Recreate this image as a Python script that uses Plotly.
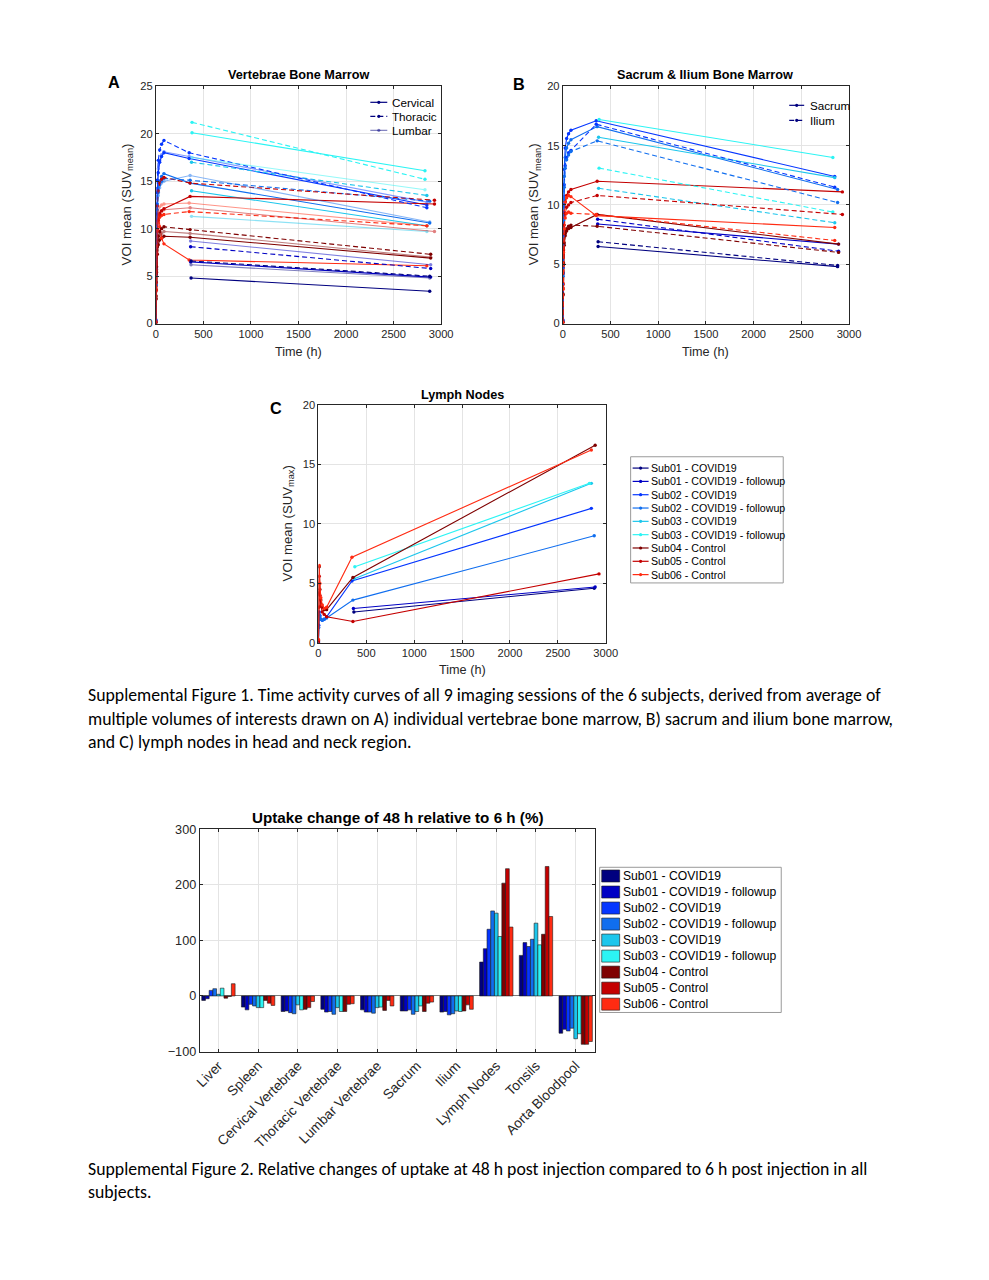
import plotly.graph_objects as go

# page is 989x1280; the browser body keeps its default 8px margin,
# so the figure itself is 973x1264.  The photographed picture shows the page
# with a small border and rescaled, so layout positions (given in picture pixels)
# are converted with SX/SY below.
PAGE_W, PAGE_H = 989, 1280
PAD = 8
FW, FH = PAGE_W - 2 * PAD, PAGE_H - 2 * PAD
SX, SY = 989 / 1005, 1280 / 1296
FS = 1 / ((SX + SY) / 2)
FONT = "Arial, Liberation Sans, Helvetica, sans-serif"
CAP_FONT = "Carlito, Calibri, Lato, sans-serif"
AX = "#262626"
GRID = "#E4E4E4"

# ---------------- data ----------------
SESSIONS = ["Sub01 - COVID19", "Sub01 - COVID19 - followup", "Sub02 - COVID19",
            "Sub02 - COVID19 - followup", "Sub03 - COVID19", "Sub03 - COVID19 - followup",
            "Sub04 - Control", "Sub05 - Control", "Sub06 - Control"]
COLORS = ["#00007F", "#0000C4", "#0536FF", "#106EEF", "#1CC6EC", "#2CF4F4",
          "#7F0000", "#C40000", "#FF2B12"]

# sampling times (h as labelled): dynamic frames and the two late scans per session
T_DYN = [0, 3, 8, 15, 25, 40, 60, 85]
LATE_T = [[370, 2880], [365, 2890], [350, 2850], [360, 2880], [375, 2850],
          [380, 2830], [360, 2890], [360, 2930], [350, 2850]]

# Panel A - vertebrae bone marrow
A_CERV_DYN = [None, None,
              [0.3, 5.2, 10.5, 13.8, 15.9, 17.0, 17.6, 18.0],
              [0.2, 4.4, 9.6, 12.6, 14.3, 15.0, 15.5, 15.8],
              None, None,
              [0.1, 2.6, 5.4, 7.3, 8.3, 8.8, 9.0, 9.2],
              [0.2, 3.6, 7.4, 9.9, 11.1, 11.6, 11.9, 12.1],
              [0.2, 4.0, 8.5, 10.8, 11.5, 10.2, 9.0, 8.4]]
A_CERV_LATE = [[4.8, 3.4], [6.5, 4.9], [17.4, 12.5], [14.8, 10.6], [14.0, 10.3],
               [20.1, 16.1], [9.1, 6.9], [13.4, 12.6], [6.7, 6.1]]
A_THOR_DYN = [None, None,
              [0.4, 5.8, 11.6, 15.1, 17.2, 18.3, 18.9, 19.3],
              [0.2, 4.1, 9.0, 12.0, 13.8, 14.6, 15.0, 15.3],
              None, None,
              [0.1, 2.9, 6.0, 8.1, 9.2, 9.7, 10.0, 10.2],
              [0.2, 4.3, 9.2, 12.4, 14.0, 14.8, 15.2, 15.4],
              [0.2, 3.5, 7.5, 9.8, 10.9, 11.2, 11.4, 11.5]]
A_THOR_LATE = [[6.6, 5.0], [8.1, 5.8], [18.0, 12.2], [15.1, 12.9], [17.0, 13.5],
               [21.2, 15.2], [9.9, 7.3], [14.8, 13.0], [11.8, 10.3]]
A_LUMB_DYN = [None, None,
              [0.3, 5.0, 10.8, 14.2, 16.3, 17.2, 17.8, 18.1],
              [0.2, 4.0, 8.9, 11.8, 13.5, 14.3, 14.8, 15.0],
              None, None,
              [0.1, 2.7, 5.7, 7.7, 8.8, 9.3, 9.5, 9.7],
              [0.2, 3.4, 7.2, 9.7, 10.9, 11.5, 11.8, 12.0],
              [0.2, 3.8, 8.2, 10.6, 11.8, 12.3, 12.5, 12.6]]
A_LUMB_LATE = [[6.2, 4.8], [8.7, 6.2], [17.6, 12.8], [15.6, 10.7], [11.3, 9.7],
               [17.5, 14.1], [9.5, 7.0], [12.2, 9.7], [12.7, 10.3]]

# Panel B - sacrum & ilium bone marrow
B_SACR_DYN = [None, None,
              [0.3, 4.7, 9.9, 13.0, 14.8, 15.6, 16.0, 16.3],
              [0.2, 4.3, 9.3, 12.4, 14.0, 14.8, 15.2, 15.5],
              None, None,
              [0.1, 2.4, 5.0, 6.6, 7.4, 7.8, 8.0, 8.1],
              [0.2, 3.3, 6.9, 9.2, 10.3, 10.8, 11.1, 11.3],
              [0.2, 3.4, 7.2, 9.4, 10.2, 10.6, 10.8, 10.7]]
B_SACR_LATE = [[6.5, 4.8], [8.4, 6.7], [17.1, 12.4], [16.6, 11.3], [15.7, 12.3],
               [17.2, 14.0], [9.2, 6.7], [12.0, 11.1], [9.1, 8.1]]
B_ILIU_DYN = [None, None,
              [0.3, 4.2, 8.8, 11.7, 13.3, 14.0, 14.4, 14.6],
              [0.2, 4.0, 8.7, 11.5, 13.1, 13.8, 14.2, 14.5],
              None, None,
              [0.1, 2.5, 5.1, 6.8, 7.6, 8.0, 8.2, 8.3],
              [0.1, 3.0, 6.2, 8.3, 9.3, 9.8, 10.0, 10.2],
              [0.1, 2.9, 6.0, 8.0, 8.9, 9.3, 9.4, 9.3]]
B_ILIU_LATE = [[6.9, 4.9], [8.8, 6.1], [16.8, 11.5], [15.4, 10.2], [11.4, 8.5],
               [13.1, 9.4], [8.2, 6.0], [10.8, 9.2], [9.2, 7.0]]

# Panel C - lymph nodes
C_LYMPH_DYN = [None, None,
               [0.1, 1.5, 2.6, 2.3, 2.0, 1.9, 2.0, 2.2],
               [0.1, 1.3, 2.4, 2.2, 2.0, 1.9, 2.0, 2.1],
               None, None,
               [0.2, 4.2, 6.4, 4.5, 3.6, 3.0, 2.8, 2.8],
               [0.1, 3.0, 5.6, 4.0, 3.1, 2.6, 2.4, 2.2],
               [0.3, 5.0, 6.5, 5.0, 3.8, 3.2, 2.9, 3.0]]
C_LYMPH_LATE = [[2.6, 4.6], [2.9, 4.7], [5.2, 11.3], [3.6, 9.0], [5.4, 13.4],
                [6.4, 13.4], [5.5, 16.6], [1.8, 5.8], [7.2, 16.2]]

# Bar chart - uptake change 48 h vs 6 h (%)
BAR_REGIONS = ["Liver", "Spleen", "Cervical Vertebrae", "Thoracic Vertebrae",
               "Lumbar Vertebrae", "Sacrum", "Ilium", "Lymph Nodes", "Tonsils",
               "Aorta Bloodpool"]
BAR_SUB01 = [-8, -20, -28, -24, -25, -27, -29, 61, 73, -67]
BAR_SUB01F = [-5, -25, -27, -29, -29, -27, -28, 85, 96, -60]
BAR_SUB02 = [10, -15, -30, -28, -29, -25, -34, 120, 89, -63]
BAR_SUB02F = [13, -18, -32, -33, -31, -33, -32, 153, 102, -58]
BAR_SUB03 = [3, -21, -16, -21, -21, -28, -27, 149, 131, -77]
BAR_SUB03F = [14, -21, -25, -28, -20, -18, -28, 107, 92, -68]
BAR_SUB04 = [-4, -8, -24, -28, -26, -28, -27, 203, 111, -87]
BAR_SUB05 = [-1, -13, -21, -15, -8, -13, -16, 229, 233, -87]
BAR_SUB06 = [22, -17, -10, -14, -18, -11, -24, 124, 143, -82]
BAR_VALUES = [BAR_SUB01, BAR_SUB01F, BAR_SUB02, BAR_SUB02F, BAR_SUB03, BAR_SUB03F,
              BAR_SUB04, BAR_SUB05, BAR_SUB06]

# ---------------- helpers ----------------
def X(q):
    return (q / SX - 2 * PAD) / FW


def Y(q):
    return 1 - (q / SY - 2 * PAD) / FH


def F(size):
    return size * FS


fig = go.Figure()
shapes = []
annotations = []

DASH = "5px,3px"


def add_curves(dyn_list, late_list, xa, ya, dash, opacity):
    for i in range(len(SESSIONS)):
        xs, ys = [], []
        if dyn_list[i] is not None:
            xs += T_DYN
            ys += dyn_list[i]
        xs += LATE_T[i]
        ys += late_list[i]
        fig.add_trace(go.Scatter(
            x=xs, y=ys, xaxis=xa, yaxis=ya, mode="lines+markers",
            line=dict(color=COLORS[i], width=1.1, dash=dash),
            marker=dict(size=3.4, color=COLORS[i]),
            opacity=opacity, showlegend=False, hoverinfo="skip"))


add_curves(A_CERV_DYN, A_CERV_LATE, "x", "y", "solid", 1.0)
add_curves(A_THOR_DYN, A_THOR_LATE, "x", "y", DASH, 1.0)
add_curves(A_LUMB_DYN, A_LUMB_LATE, "x", "y", "solid", 0.5)
add_curves(B_SACR_DYN, B_SACR_LATE, "x2", "y2", "solid", 1.0)
add_curves(B_ILIU_DYN, B_ILIU_LATE, "x2", "y2", DASH, 1.0)
add_curves(C_LYMPH_DYN, C_LYMPH_LATE, "x3", "y3", "solid", 1.0)

for i, name in enumerate(SESSIONS):
    fig.add_trace(go.Bar(
        x=BAR_REGIONS, y=BAR_VALUES[i], name=name, xaxis="x4", yaxis="y4",
        marker=dict(color=COLORS[i], line=dict(color="#1a1a1a", width=0.6)),
        showlegend=False, hoverinfo="skip"))


def axis(dom, anchor, rng, dtick, **kw):
    d = dict(domain=dom, anchor=anchor, range=rng, dtick=dtick,
             showline=True, linecolor=AX, linewidth=1, mirror="ticks",
             ticks="inside", ticklen=3, tickcolor=AX, tickwidth=0.8,
             showgrid=True, gridcolor=GRID, gridwidth=1, zeroline=False,
             tickfont=dict(family=FONT, size=F(11), color=AX))
    d.update(kw)
    return d


layout = dict(
    width=FW, height=FH, autosize=False,
    margin=dict(l=0, r=0, t=0, b=0),
    paper_bgcolor="white", plot_bgcolor="white",
    showlegend=False, barmode="group", bargap=0.16, bargroupgap=0,
    xaxis=axis([X(158), X(444)], "y", [0, 3000], 500),
    yaxis=axis([Y(324), Y(87)], "x", [0, 25], 5),
    xaxis2=axis([X(566), X(853)], "y2", [0, 3000], 500),
    yaxis2=axis([Y(324), Y(87)], "x2", [0, 20], 5),
    xaxis3=axis([X(321), X(609)], "y3", [0, 3000], 500),
    yaxis3=axis([Y(643), Y(405)], "x3", [0, 20], 5),
    xaxis4=axis([X(202), X(598)], "y4", [-0.47, 9.48], None, type="category",
                tickangle=-45, tickfont=dict(family=FONT, size=F(13.5), color=AX)),
    yaxis4=axis([Y(1051), Y(829)], "x4", [-100, 300], 100, zeroline=True,
                zerolinecolor="#7a7a7a", zerolinewidth=1,
                tickfont=dict(family=FONT, size=F(12.5), color=AX)),
)
layout["xaxis4"].pop("dtick")


def text(x, y, s, size, bold=False, xanchor="center", angle=0, family=FONT, color="black"):
    annotations.append(dict(
        xref="paper", yref="paper", x=X(x), y=Y(y), xanchor=xanchor, yanchor="middle",
        text=("<b>%s</b>" % s) if bold else s, showarrow=False, textangle=angle,
        font=dict(family=family, size=F(size), color=color)))


# titles, panel letters and axis labels
text(301, 76, "Vertebrae Bone Marrow", 12.5, bold=True)
text(709, 76, "Sacrum &amp; Ilium Bone Marrow", 12.5, bold=True)
text(465, 395, "Lymph Nodes", 12.5, bold=True)
text(116, 83, "A", 16, bold=True)
text(522, 85, "B", 16, bold=True)
text(278, 408, "C", 16, bold=True)
YLAB_MEAN = "VOI mean (SUV<sub>mean</sub>)"
YLAB_MAX = "VOI mean (SUV<sub>max</sub>)"
text(301, 352, "Time (h)", 12.5, color=AX)
text(709, 352, "Time (h)", 12.5, color=AX)
text(465, 670, "Time (h)", 12.5, color=AX)
text(129, 205, YLAB_MEAN, 13, angle=-90, color=AX)
text(538, 205, YLAB_MEAN, 13, angle=-90, color=AX)
text(291, 524, YLAB_MAX, 13, angle=-90, color=AX)
text(400, 817, "Uptake change of 48 h relative to 6 h (%)", 15, bold=True)

# custom legends
def legend_lines(names, colors, dashes, opac, xl0, xl1, xt, y0, dy, fsize, marker=True):
    for k, name in enumerate(names):
        yc = y0 + k * dy
        shapes.append(dict(type="line", xref="paper", yref="paper",
                           x0=X(xl0), x1=X(xl1), y0=Y(yc), y1=Y(yc),
                           line=dict(color=colors[k], width=1.2, dash=dashes[k]),
                           opacity=opac[k]))
        if marker:
            xm = (xl0 + xl1) / 2
            shapes.append(dict(type="circle", xref="paper", yref="paper",
                               x0=X(xm - 1.6), x1=X(xm + 1.6), y0=Y(yc + 1.6), y1=Y(yc - 1.6),
                               fillcolor=colors[k], line=dict(width=0), opacity=opac[k]))
        text(xt, yc, name, fsize, xanchor="left")


legend_lines(["Cervical", "Thoracic", "Lumbar"], [COLORS[0]] * 3,
             ["solid", DASH, "solid"], [1, 1, 0.5], 373, 390, 393, 103, 14, 11.5)
legend_lines(["Sacrum", "Ilium"], [COLORS[0]] * 2, ["solid", DASH], [1, 1],
             793, 808, 812, 106, 15, 11.5)

# legend C (boxed)
shapes.append(dict(type="rect", xref="paper", yref="paper", x0=X(634), x1=X(787),
                   y0=Y(583), y1=Y(457), line=dict(color="#9a9a9a", width=1),
                   fillcolor="white", layer="below"))
legend_lines(SESSIONS, COLORS, ["solid"] * 9, [1] * 9, 636, 652, 652.5, 468.3, 13.3, 10.5)

# legend bar (boxed)
shapes.append(dict(type="rect", xref="paper", yref="paper", x0=X(603), x1=X(785),
                   y0=Y(1012), y1=Y(867), line=dict(color="#9a9a9a", width=1),
                   fillcolor="white", layer="below"))
for k, name in enumerate(SESSIONS):
    yc = 875.7 + k * 16
    shapes.append(dict(type="rect", xref="paper", yref="paper",
                       x0=X(605), x1=X(623), y0=Y(yc + 6), y1=Y(yc - 6),
                       fillcolor=COLORS[k], line=dict(color="#1a1a1a", width=0.6)))
    text(624.5, yc, name, 12, xanchor="left")

# captions
CAPTION1 = ["Supplemental Figure 1. Time activity curves of all 9 imaging sessions of the 6 subjects, derived from average of",
            "multiple volumes of interests drawn on A) individual vertebrae bone marrow, B) sacrum and ilium bone marrow,",
            "and C) lymph nodes in head and neck region."]
CAPTION2 = ["Supplemental Figure 2. Relative changes of uptake at 48 h post injection compared to 6 h post injection in all",
            "subjects."]
for k, line in enumerate(CAPTION1):
    text(88, 695 + k * 23.5, line, 17.5, xanchor="left", family=CAP_FONT)
for k, line in enumerate(CAPTION2):
    text(88, 1168 + k * 23.5, line, 17.5, xanchor="left", family=CAP_FONT)

layout["shapes"] = shapes
layout["annotations"] = annotations
fig.update_layout(**layout)
fig.write_html("out.html", config={"displayModeBar": False})
